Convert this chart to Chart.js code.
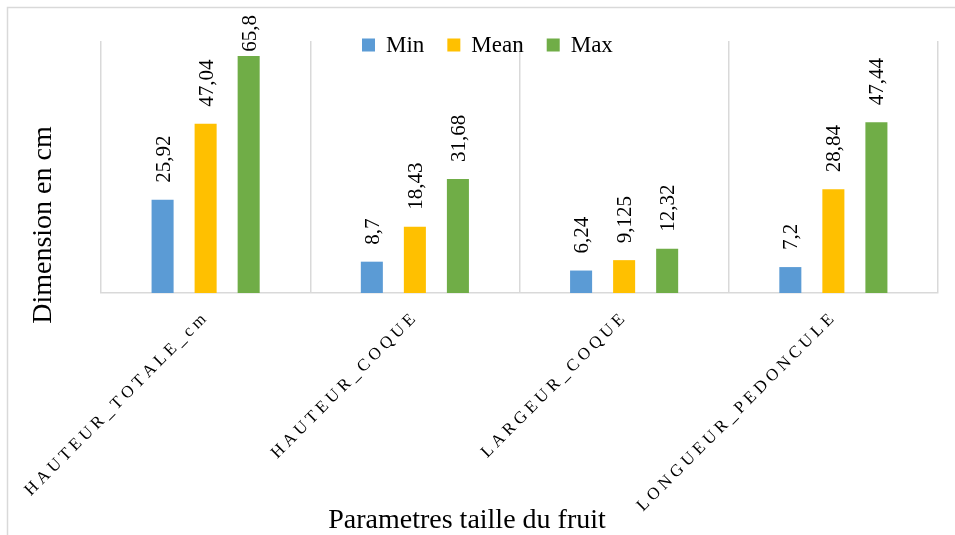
<!DOCTYPE html>
<html>
<head>
<meta charset="utf-8">
<script src="https://cdn.jsdelivr.net/npm/chart.js@4/dist/chart.umd.min.js"></script>
<style>
  html, body { margin: 0; padding: 0; background: #ffffff; }
  #wrap { width: 955px; height: 535px; }
</style>
</head>
<body>
<div id="wrap"><canvas id="c" width="955" height="535"></canvas></div>
<script>
// Fruit size parameters (cm)
const categories = ['HAUTEUR_TOTALE_cm', 'HAUTEUR_COQUE', 'LARGEUR_COQUE', 'LONGUEUR_PEDONCULE'];
const minValues  = [25.92, 8.7, 6.24, 7.2];
const meanValues = [47.04, 18.43, 9.125, 28.84];
const maxValues  = [65.8, 31.68, 12.32, 47.44];
const seriesNames = ['Min', 'Mean', 'Max'];

const yAxisTitle = 'Dimension en cm';
const xAxisTitle = 'Parametres taille du fruit';

const SERIF = "'Liberation Serif', 'Times New Roman', serif";
const GRID = '#d9d9d9';

// Outer frame around the whole figure
const framePlugin = {
  id: 'frame',
  beforeDraw(chart) {
    const ctx = chart.ctx;
    ctx.save();
    ctx.strokeStyle = GRID;
    ctx.lineWidth = 1.5;
    ctx.strokeRect(7.5, 7.5, 970, 560);
    ctx.restore();
  }
};

// Vertical value labels above each bar
const valueLabels = {
  id: 'valueLabels',
  afterDatasetsDraw(chart) {
    const ctx = chart.ctx;
    ctx.save();
    ctx.font = '21px ' + SERIF;
    ctx.fillStyle = '#000000';
    ctx.textAlign = 'left';
    ctx.textBaseline = 'alphabetic';
    chart.data.datasets.forEach((ds, di) => {
      const meta = chart.getDatasetMeta(di);
      meta.data.forEach((bar, i) => {
        const txt = String(ds.data[i]).replace('.', ',');
        const w = ctx.measureText(txt).width;
        const startY = Math.max(bar.y - 17, 15 + w);
        ctx.save();
        ctx.translate(bar.x + 7, startY);
        ctx.rotate(-Math.PI / 2);
        ctx.fillText(txt, 0, 0);
        ctx.restore();
      });
    });
    ctx.restore();
  }
};

// Legend, axis titles and slanted, letter-spaced category labels
const decorations = {
  id: 'decorations',
  afterDraw(chart) {
    const ctx = chart.ctx;
    const xScale = chart.scales.x;
    ctx.save();

    // legend
    ctx.font = '23px ' + SERIF;
    ctx.textBaseline = 'middle';
    ctx.textAlign = 'left';
    let lx = 362;
    const ly = 45;
    chart.data.datasets.forEach((ds) => {
      ctx.fillStyle = ds.backgroundColor;
      ctx.fillRect(lx, ly - 6.5, 13, 13);
      ctx.fillStyle = '#000000';
      const tx = lx + 24;
      ctx.fillText(ds.label, tx, ly + 1);
      lx = tx + ctx.measureText(ds.label).width + 23;
    });

    // axis titles
    ctx.font = '28px ' + SERIF;
    ctx.fillStyle = '#000000';
    ctx.textAlign = 'center';
    ctx.textBaseline = 'alphabetic';
    ctx.fillText(xAxisTitle, 467, 528);
    ctx.save();
    ctx.translate(51, 225);
    ctx.rotate(-Math.PI / 2);
    ctx.fillText(yAxisTitle, 0, 0);
    ctx.restore();

    // category labels at 45 degrees
    ctx.font = '17px ' + SERIF;
    ctx.textBaseline = 'middle';
    ctx.textAlign = 'left';
    const spacing = 4;
    categories.forEach((label, i) => {
      const cx = xScale.getPixelForTick(i);
      const chars = Array.from(label);
      const widths = chars.map(ch => ctx.measureText(ch).width);
      const total = widths.reduce((a, b) => a + b, 0) + spacing * (chars.length - 1);
      ctx.save();
      ctx.translate(cx - 2, 317);
      ctx.rotate(-Math.PI / 4);
      let x = -total;
      chars.forEach((ch, k) => {
        ctx.fillText(ch, x, 0);
        x += widths[k] + spacing;
      });
      ctx.restore();
    });

    ctx.restore();
  }
};

new Chart(document.getElementById('c'), {
  type: 'bar',
  data: {
    labels: categories,
    datasets: [
      { label: seriesNames[0], data: minValues,  backgroundColor: '#5B9BD5' },
      { label: seriesNames[1], data: meanValues, backgroundColor: '#FFC000' },
      { label: seriesNames[2], data: maxValues,  backgroundColor: '#70AD47' }
    ]
  },
  options: {
    responsive: false,
    animation: false,
    devicePixelRatio: 1,
    layout: { padding: { left: 101, top: 41, right: 17, bottom: 242 } },
    datasets: {
      bar: { categoryPercentage: 0.617, barPercentage: 0.512 }
    },
    scales: {
      x: {
        offset: true,
        grid: { offset: true, color: GRID, lineWidth: 1.5, drawTicks: false },
        border: { color: GRID, width: 1.5 },
        ticks: { display: false }
      },
      y: {
        display: false,
        min: 0,
        max: 70
      }
    },
    plugins: {
      legend: { display: false },
      tooltip: { enabled: false }
    }
  },
  plugins: [framePlugin, valueLabels, decorations]
});
</script>
</body>
</html>
